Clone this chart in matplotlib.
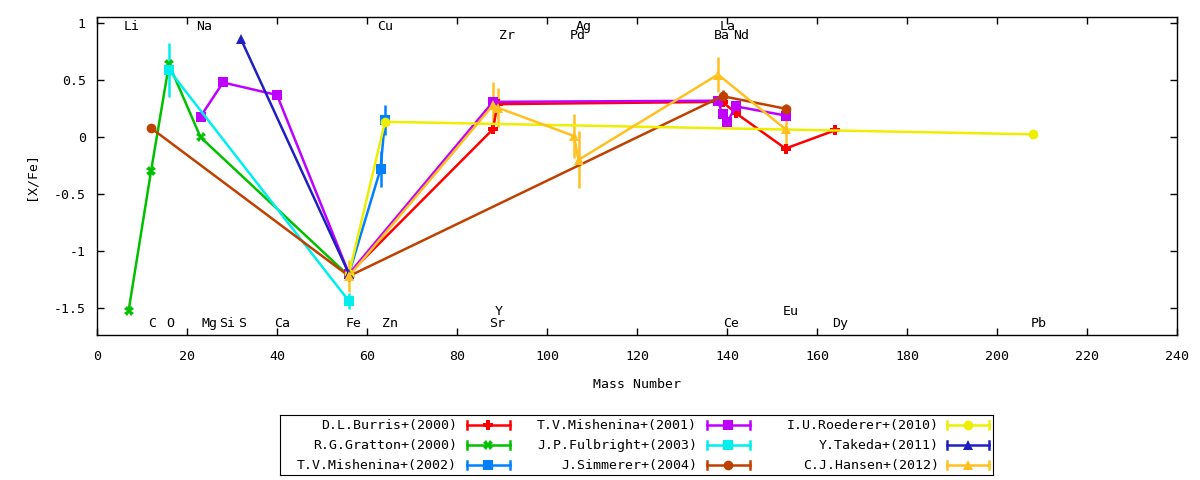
import numpy as np
import matplotlib
matplotlib.use('Agg')
import matplotlib.pyplot as plt
from matplotlib.lines import Line2D

plt.rcParams['font.family'] = ['DejaVu Sans Mono', 'DejaVu Sans']
plt.rcParams['font.size'] = 9.5

# element names shown on the plot
top_elements = ['Li', 'Na', 'Cu', 'Ag', 'La']
top2_elements = ['Zr', 'Pd', 'Ba', 'Nd']
bottom_elements = ['C', 'O', 'Mg', 'Si', 'S', 'Ca', 'Fe', 'Zn', 'Sr', 'Ce', 'Dy', 'Pb']
bottom2_elements = ['Y', 'Eu']

# where each element name sits along the mass axis (text placement only)
label_pos = {'Li': 7.8, 'Na': 23.8, 'Cu': 64.0, 'Ag': 108.2, 'La': 140.2,
             'Zr': 91.1, 'Pd': 106.9, 'Ba': 138.9, 'Nd': 143.1,
             'C': 12.2, 'O': 16.2, 'Mg': 25.1, 'Si': 29.0, 'S': 32.2,
             'Ca': 41.1, 'Fe': 57.1, 'Zn': 65.1, 'Sr': 88.9, 'Ce': 141.0,
             'Dy': 165.1, 'Pb': 209.3, 'Y': 89.3, 'Eu': 154.2}

# [X/Fe] per study
burris_mass = [56, 88, 89, 139, 142, 153, 164]
burris_xfe = [-1.20, 0.07, 0.29, 0.31, 0.21, -0.10, 0.06]
burris_err = [0, 0, 0, 0, 0, 0, 0]

gratton_mass = [7, 12, 16, 23, 56]
gratton_xfe = [-1.53, -0.30, 0.64, 0.00, -1.22]
gratton_err = [0, 0, 0, 0, 0]

mish02_mass = [56, 63, 64]
mish02_xfe = [-1.20, -0.28, 0.15]
mish02_err = [0, 0.16, 0.13]

mish01_mass = [23, 28, 40, 56, 88, 138, 139, 140, 142, 153]
mish01_xfe = [0.18, 0.48, 0.37, -1.20, 0.31, 0.32, 0.20, 0.13, 0.27, 0.19]
mish01_err = [0, 0, 0, 0, 0, 0, 0, 0, 0, 0]

fulbright_mass = [16, 56]
fulbright_xfe = [0.59, -1.44]
fulbright_err = [0.24, 0.07]

simmerer_mass = [12, 56, 139, 153]
simmerer_xfe = [0.08, -1.22, 0.36, 0.25]
simmerer_err = [0, 0, 0.05, 0.04]

roederer_mass = [56, 64, 208]
roederer_xfe = [-1.20, 0.135, 0.025]
roederer_err = [0, 0, 0]

takeda_mass = [32, 56]
takeda_xfe = [0.86, -1.20]
takeda_err = [0, 0]

hansen_mass = [56, 88, 89, 106, 107, 138, 153]
hansen_xfe = [-1.22, 0.28, 0.26, 0.01, -0.20, 0.55, 0.07]
hansen_err = [0.14, 0.20, 0.17, 0.19, 0.25, 0.15, 0.17]

series = [
    ('D.L.Burris+(2000)', burris_mass, burris_xfe, burris_err, '#ff0000', 'P'),
    ('R.G.Gratton+(2000)', gratton_mass, gratton_xfe, gratton_err, '#00c000', 'X'),
    ('T.V.Mishenina+(2002)', mish02_mass, mish02_xfe, mish02_err, '#0080ff', 's'),
    ('T.V.Mishenina+(2001)', mish01_mass, mish01_xfe, mish01_err, '#c000ff', 's'),
    ('J.P.Fulbright+(2003)', fulbright_mass, fulbright_xfe, fulbright_err, '#00eeee', 's'),
    ('J.Simmerer+(2004)', simmerer_mass, simmerer_xfe, simmerer_err, '#c04000', 'o'),
    ('I.U.Roederer+(2010)', roederer_mass, roederer_xfe, roederer_err, '#eeee00', 'o'),
    ('Y.Takeda+(2011)', takeda_mass, takeda_xfe, takeda_err, '#2020c0', '^'),
    ('C.J.Hansen+(2012)', hansen_mass, hansen_xfe, hansen_err, '#ffc020', '^'),
]

W, H = 1200, 480
fig = plt.figure(figsize=(12, 4.8), dpi=100)
ax = fig.add_axes([97 / W, 1 - 335 / H, (1177 - 97) / W, (335 - 17) / H])

for name, m, v, e, color, mk in series:
    ax.errorbar(m, v, yerr=e, color=color, marker=mk, markersize=7,
                linewidth=1.8, elinewidth=1.8, capsize=3.2, capthick=1.8,
                markeredgewidth=0)

ax.set_xlim(0, 240)
ax.set_ylim(-1.737, 1.055)
ax.set_xticks(np.arange(0, 241, 20))
ax.set_yticks([-1.5, -1, -0.5, 0, 0.5, 1])
ax.set_yticklabels(['-1.5', '-1', '-0.5', '0', '0.5', '1'])
ax.tick_params(direction='in', top=True, right=True, length=5, width=1)
ax.tick_params(axis='x', pad=11)
ax.tick_params(axis='y', pad=8)
for sp in ax.spines.values():
    sp.set_linewidth(1)

# element labels, two levels at the top and two at the bottom
label_rows = [(top_elements, 0.974), (top2_elements, 0.895),
              (bottom_elements, -1.64), (bottom2_elements, -1.535)]
for names, yy in label_rows:
    for el in names:
        ax.text(label_pos[el], yy, el, ha='center', va='center')

fig.text(637 / W, 1 - 384 / H, 'Mass Number', ha='center', va='center')
fig.text(31 / W, 1 - 176 / H, '[X/Fe]', ha='center', va='center', rotation=90)

# legend box, drawn by hand in pixel units to get gnuplot style samples
lax = fig.add_axes([280 / W, 1 - 475 / H, 713 / W, 60 / H])
lax.set_xlim(0, 713)
lax.set_ylim(60, 0)
lax.set_xticks([])
lax.set_yticks([])
col_text = [177, 417, 659]
col_sample = [(187, 230), (427, 470), (667, 709)]
row_y = [10, 30, 50]
for i, (name, m, v, e, color, mk) in enumerate(series):
    c, r = i // 3, i % 3
    y = row_y[r]
    x0, x1 = col_sample[c]
    lax.text(col_text[c], y, name, ha='right', va='center')
    lax.add_line(Line2D([x0, x1], [y, y], color=color, linewidth=1.8))
    lax.add_line(Line2D([x0, x0], [y - 4, y + 4], color=color, linewidth=1.8))
    lax.add_line(Line2D([x1, x1], [y - 4, y + 4], color=color, linewidth=1.8))
    lax.add_line(Line2D([(x0 + x1) / 2], [y], color=color, marker=mk,
                        markersize=7, markeredgewidth=0))

fig.savefig('out.png', dpi=100)
